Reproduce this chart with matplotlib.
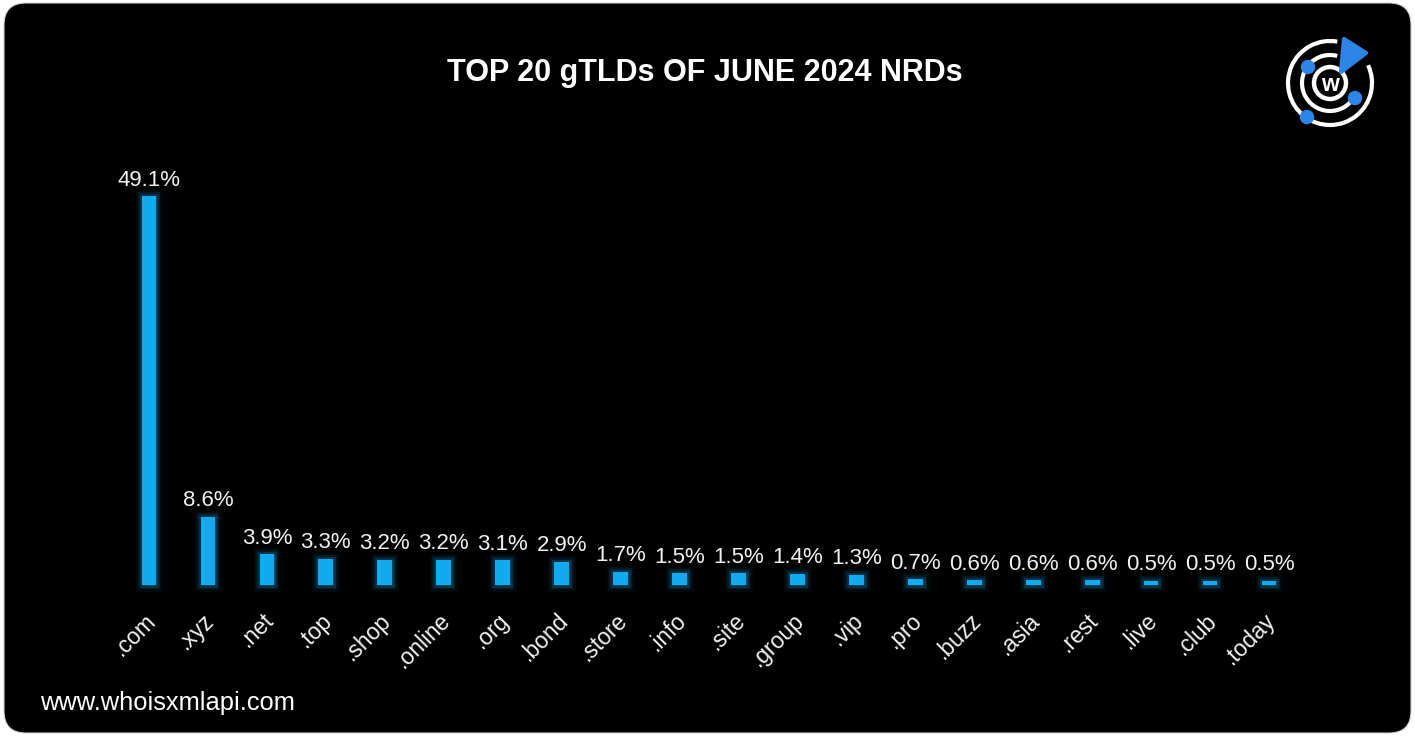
import matplotlib.pyplot as plt
from matplotlib.patches import FancyBboxPatch, Circle, Arc, Polygon
from matplotlib.transforms import ScaledTranslation

plt.rcParams['font.family'] = ['Liberation Sans', 'DejaVu Sans']

tlds = ['.com', '.xyz', '.net', '.top', '.shop', '.online', '.org', '.bond', '.store', '.info',
        '.site', '.group', '.vip', '.pro', '.buzz', '.asia', '.rest', '.live', '.club', '.today']
shares = [49.1, 8.6, 3.9, 3.3, 3.2, 3.2, 3.1, 2.9, 1.7, 1.5,
          1.5, 1.4, 1.3, 0.7, 0.6, 0.6, 0.6, 0.5, 0.5, 0.5]

W, H = 1415, 737
BAR = '#12aaee'
BLUE = '#2b86e8'

fig = plt.figure(figsize=(W / 100, H / 100), dpi=100, facecolor='white')

# background panel in pixel coordinates (y grows downward)
bg = fig.add_axes([0, 0, 1, 1])
bg.set_xlim(0, W)
bg.set_ylim(H, 0)
bg.axis('off')
bg.add_patch(FancyBboxPatch((4, 3), W - 8, H - 7, boxstyle='round,pad=0,rounding_size=22',
                            facecolor='black', edgecolor='#d0d0d0', linewidth=0.8))
bg.text(705, 73, 'TOP 20 gTLDs OF JUNE 2024 NRDs', color='white', fontsize=22,
        fontweight='bold', ha='center', va='center')
bg.text(40, 703, 'www.whoisxmlapi.com', color='white', fontsize=18.4, ha='left', va='center')

# logo: rings, dots and pointer
cx, cy = 1330, 83
bg.add_patch(Circle((cx, cy), 16, fill=False, edgecolor='white', linewidth=3.2))
bg.text(cx, cy + 1, 'w', color='white', fontsize=16.5, fontweight='bold', ha='center', va='center')
bg.add_patch(Arc((cx, cy), 56, 56, theta1=30, theta2=285, edgecolor='white', linewidth=3))
bg.add_patch(Arc((cx, cy), 84, 84, theta1=-25, theta2=280, edgecolor='white', linewidth=3))
for px, py in [(1308, 67), (1355, 98), (1307, 117)]:
    bg.add_patch(Circle((px, py), 6.5, color=BLUE, zorder=5))
bg.add_patch(Polygon([(1341, 72), (1344, 39), (1366, 53)], closed=True, facecolor=BLUE,
                     edgecolor=BLUE, linewidth=3, joinstyle='round', zorder=5))

# chart
ax = fig.add_axes([119.5 / W, 152 / H, 1179 / W, 435.6 / H])
ax.set_facecolor('none')
x = range(len(tlds))
for lw, a in [(9, 0.06), (6, 0.1), (3.5, 0.18)]:
    ax.bar(x, shares, width=0.25, color=BAR, edgecolor=BAR, linewidth=lw, alpha=a, clip_on=False)
ax.bar(x, shares, width=0.25, color=BAR, linewidth=0, clip_on=False)

for i, v in enumerate(shares):
    ax.annotate(f'{v}%', (i, v), xytext=(0, 4), textcoords='offset points',
                ha='center', va='bottom', color='#f2f2f2', fontsize=16)

ax.set_xlim(-0.5, len(tlds) - 0.5)
ax.set_ylim(0, 55)
ax.set_xticks(list(x))
ax.set_xticklabels(tlds, rotation=45, ha='right', rotation_mode='anchor',
                   color='#f2f2f2', fontsize=16.5)
ax.tick_params(axis='x', length=0, pad=17)
shift = ScaledTranslation(-5 / 100, 0, fig.dpi_scale_trans)
for lab in ax.get_xticklabels():
    lab.set_transform(lab.get_transform() + shift)
ax.set_yticks([])
for s in ax.spines.values():
    s.set_visible(False)

plt.savefig('out.png', dpi=100, facecolor='white')
